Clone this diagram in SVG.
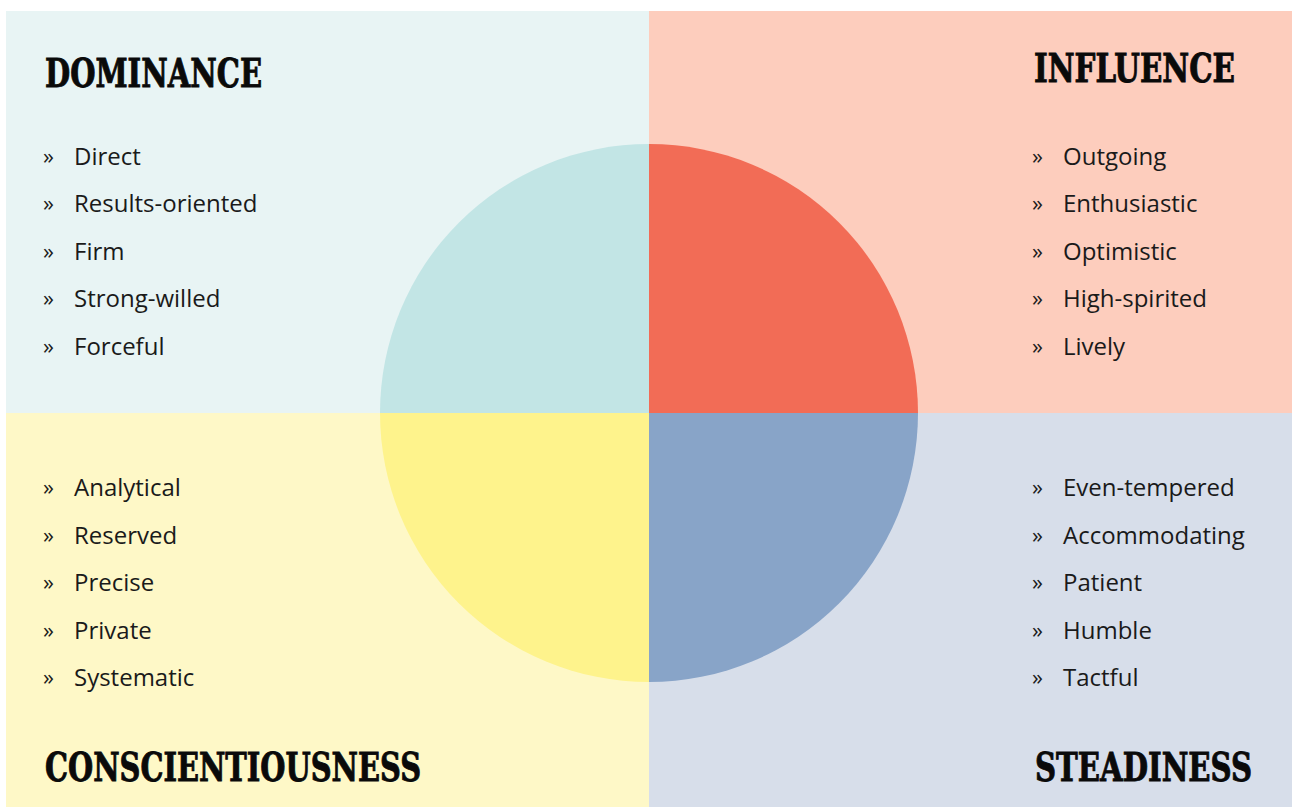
<svg xmlns="http://www.w3.org/2000/svg" width="1292" height="807" viewBox="0 0 1292 807">
<style>
.title{font-family:"DejaVu Serif Condensed","DejaVu Serif","Liberation Serif",serif;font-weight:bold;font-stretch:condensed;font-size:36px;fill:#0a0a0a;stroke:#0a0a0a;stroke-width:0.8px}
.item{font-family:"Open Sans","Liberation Sans",sans-serif;font-size:24px;fill:#1a1a1a}
.bul{font-family:"Open Sans","Liberation Sans",sans-serif;font-size:22px;fill:#1a1a1a}
</style>
<rect width="1292" height="807" fill="#ffffff"/>
<g id="quadrants">
<rect x="6" y="11" width="643" height="402" fill="#e8f4f4"/>
<rect x="649" y="11" width="643" height="402" fill="#fdcdbd"/>
<rect x="6" y="413" width="643" height="394" fill="#fef8c7"/>
<rect x="649" y="413" width="643" height="394" fill="#d7deea"/>
</g>
<g id="circle">
<path d="M649 413 L380 413 A269 269 0 0 1 649 144 Z" fill="#c2e5e5"/>
<path d="M649 413 L649 144 A269 269 0 0 1 918 413 Z" fill="#f26c56"/>
<path d="M649 413 L918 413 A269 269 0 0 1 649 682 Z" fill="#88a4c8"/>
<path d="M649 413 L649 682 A269 269 0 0 1 380 413 Z" fill="#fef38c"/>
</g>
<g id="dominance">
<text class="title" transform="translate(45 87) scale(1 1.1)" textLength="217" lengthAdjust="spacingAndGlyphs">DOMINANCE</text>
<g class="bul"><text x="43" y="164">»</text><text x="43" y="211">»</text><text x="43" y="259">»</text><text x="43" y="306">»</text><text x="43" y="354">»</text></g>
<g class="item"><text x="74" y="165">Direct</text><text x="74" y="212">Results-oriented</text><text x="74" y="260">Firm</text><text x="74" y="307">Strong-willed</text><text x="74" y="355">Forceful</text></g>
</g>
<g id="influence">
<text class="title" transform="translate(1034 82) scale(1 1.1)" textLength="201" lengthAdjust="spacingAndGlyphs">INFLUENCE</text>
<g class="bul"><text x="1032" y="164">»</text><text x="1032" y="211">»</text><text x="1032" y="259">»</text><text x="1032" y="306">»</text><text x="1032" y="354">»</text></g>
<g class="item"><text x="1063" y="165">Outgoing</text><text x="1063" y="212">Enthusiastic</text><text x="1063" y="260">Optimistic</text><text x="1063" y="307">High-spirited</text><text x="1063" y="355">Lively</text></g>
</g>
<g id="conscientiousness">
<text class="title" transform="translate(45 781) scale(1 1.1)" textLength="376" lengthAdjust="spacingAndGlyphs">CONSCIENTIOUSNESS</text>
<g class="bul"><text x="43" y="495">»</text><text x="43" y="543">»</text><text x="43" y="590">»</text><text x="43" y="638">»</text><text x="43" y="685">»</text></g>
<g class="item"><text x="74" y="496">Analytical</text><text x="74" y="544">Reserved</text><text x="74" y="591">Precise</text><text x="74" y="639">Private</text><text x="74" y="686">Systematic</text></g>
</g>
<g id="steadiness">
<text class="title" transform="translate(1035 781) scale(1 1.1)" textLength="217" lengthAdjust="spacingAndGlyphs">STEADINESS</text>
<g class="bul"><text x="1032" y="495">»</text><text x="1032" y="543">»</text><text x="1032" y="590">»</text><text x="1032" y="638">»</text><text x="1032" y="685">»</text></g>
<g class="item"><text x="1063" y="496">Even-tempered</text><text x="1063" y="544">Accommodating</text><text x="1063" y="591">Patient</text><text x="1063" y="639">Humble</text><text x="1063" y="686">Tactful</text></g>
</g>
<g id="connectors"></g>
</svg>
